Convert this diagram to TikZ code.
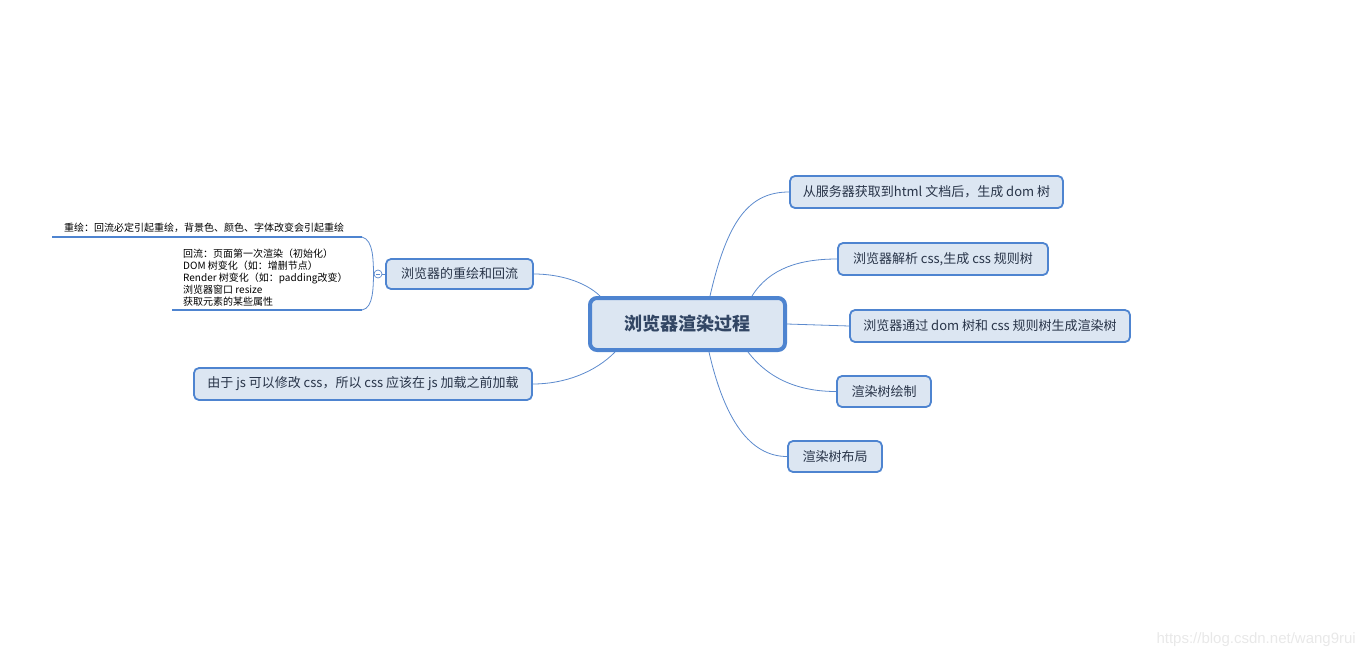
\documentclass[tikz,border=0pt]{standalone}
\usepackage{fontspec}
\newfontfamily\cjk{Noto Sans CJK SC}
\newfontfamily\wmfont{Liberation Sans}
\usetikzlibrary{calc}
\definecolor{bordc}{RGB}{78,132,208}
\definecolor{fillc}{RGB}{220,230,242}
\definecolor{txtc}{RGB}{40,52,72}
\definecolor{ctxt}{RGB}{50,70,100}
\definecolor{linec}{RGB}{92,138,205}
\definecolor{wm}{RGB}{232,232,232}
\tikzset{
  subnode/.style={draw=bordc, fill=fillc, line width=1.8pt, rounded corners=5pt, text=txtc,
    font=\cjk\fontsize{13}{15}\selectfont, inner sep=0pt, anchor=center},
  mainnode/.style={draw=bordc, fill=fillc, line width=4pt, rounded corners=7pt, text=ctxt,
    font=\cjk\bfseries\fontsize{18}{20}\selectfont, inner sep=0pt, anchor=center},
  conn/.style={draw=linec, line width=0.8pt},
  uline/.style={draw=bordc, line width=2.8pt},
  small/.style={text=black, font=\cjk\fontsize{10}{12}\selectfont, inner sep=0pt, align=left}
}
\begin{document}
\begin{tikzpicture}[x=1pt,y=-1pt]
\useasboundingbox (0,0) rectangle (1366,659);

\node[mainnode, minimum width=195pt, minimum height=52pt] (C) at (687.5,324) {浏览器渲染过程};

\node[subnode, minimum width=273pt, minimum height=32pt] (R1) at (926.5,192) {从服务器获取到html 文档后，生成 dom 树};
\node[subnode, minimum width=210pt, minimum height=32pt] (R2) at (943,259) {浏览器解析 css,生成 css 规则树};
\node[subnode, minimum width=280pt, minimum height=32pt] (R3) at (990,326) {浏览器通过 dom 树和 css 规则树生成渲染树};
\node[subnode, minimum width=94pt, minimum height=31pt] (R4) at (884,391.5) {渲染树绘制};
\node[subnode, minimum width=94pt, minimum height=31pt] (R5) at (835,456.5) {渲染树布局};
\node[subnode, minimum width=147pt, minimum height=30pt] (L1) at (459.5,274) {浏览器的重绘和回流};
\node[subnode, minimum width=338pt, minimum height=32pt] (L2) at (363,384) {由于 js 可以修改 css，所以 css 应该在 js 加载之前加载};

% connectors
\draw[conn] ($(C.north)+(22.5,0)$) .. controls ($(C.north)+(40,-76)$) and ($(R1.west)+(-40,0)$) .. (R1.west);
\draw[conn] ($(C.north)+(64.5,0)$) .. controls ($(C.north)+(82,-28)$) and ($(R2.west)+(-37,0)$) .. (R2.west);
\draw[conn] (C.east) -- (R3.west);
\draw[conn] ($(C.south)+(60.5,0)$) .. controls ($(C.south)+(82,28)$) and ($(R4.west)+(-36,0)$) .. (R4.west);
\draw[conn] ($(C.south)+(21.5,0)$) .. controls ($(C.south)+(37,68)$) and ($(R5.west)+(-37,0)$) .. (R5.west);
\draw[conn] ($(C.north)+(-87.5,0)$) .. controls ($(C.north)+(-102,-14)$) and ($(L1.east)+(26,0)$) .. (L1.east);
\draw[conn] ($(C.south)+(-72.5,0)$) .. controls ($(C.south)+(-92,20)$) and ($(L2.east)+(32,0)$) .. (L2.east);

% sub-topics of L1
\node[draw=linec, fill=white, line width=0.7pt, circle, minimum size=8pt, inner sep=0pt] (K) at (378,274) {};
\draw[linec, line width=0.7pt] ($(K.center)+(-2,0)$) -- ($(K.center)+(2,0)$);
\draw[conn] (K.east) -- (L1.west);
\coordinate (T) at (362,237);
\coordinate (B) at (362,310);
\draw[conn] (K.west) .. controls (373,262) and (374,240) .. (T);
\draw[conn] (K.west) .. controls (373,286) and (374,308) .. (B);
\draw[uline] (52,237) -- (T);
\draw[uline] (172,310) -- (B);
\node[small, anchor=west] (S1) at (64,228) {重绘：回流必定引起重绘，背景色、颜色、字体改变会引起重绘};
\node[small, anchor=north west] (S2) at (183,248.5) {回流：页面第一次渲染（初始化）\\DOM 树变化（如：增删节点）\\Render 树变化（如：padding改变）\\浏览器窗口 resize\\获取元素的某些属性};

\node[text=wm, font=\wmfont\fontsize{15}{17}\selectfont, anchor=east, inner sep=0pt] (W) at (1356,640) {https://blog.csdn.net/wang9rui};
\end{tikzpicture}
\end{document}
